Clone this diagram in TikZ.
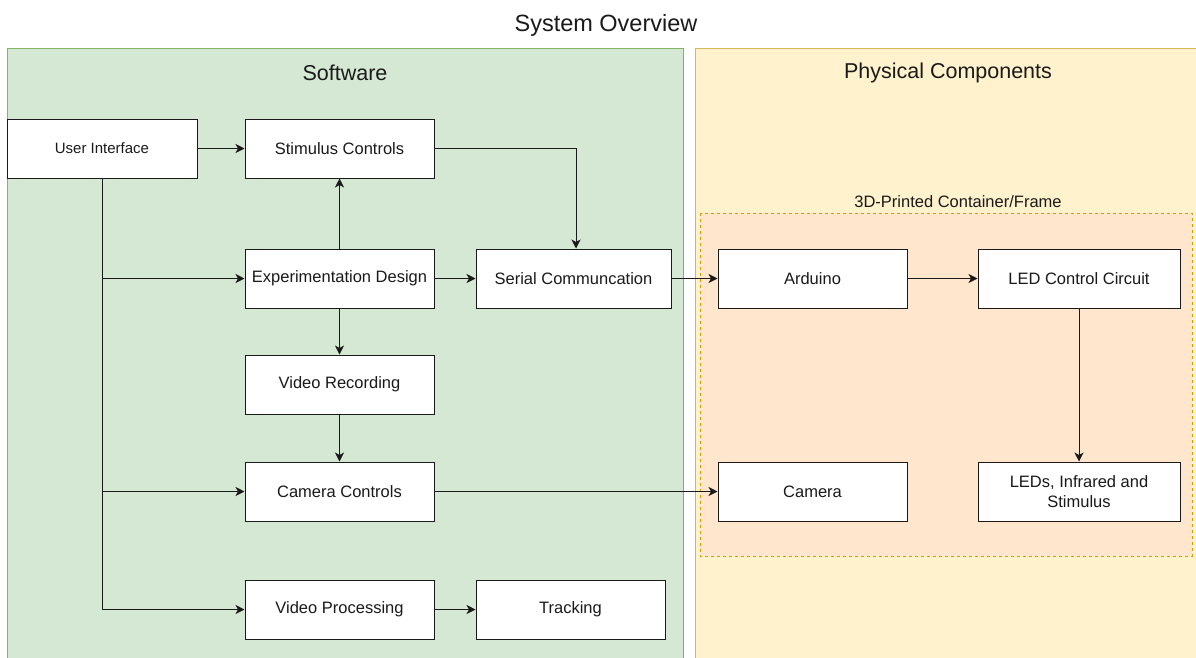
\documentclass[tikz,border=0pt]{standalone}
\usepackage{fontspec}
\setmainfont{Liberation Sans}
\usetikzlibrary{arrows.meta,positioning}
\definecolor{swfill}{HTML}{D5E8D4}
\definecolor{swline}{HTML}{82B366}
\definecolor{phfill}{HTML}{FFF2CC}
\definecolor{phline}{HTML}{D6B656}
\definecolor{frfill}{HTML}{FFE6CC}
\definecolor{frline}{HTML}{D79B00}
\definecolor{ink}{HTML}{1A1A1A}
\tikzset{
  block/.style={draw=ink, fill=white, line width=1pt, minimum width=189pt, minimum height=59pt,
    inner sep=2pt, align=center, font=\fontsize{16.5}{20}\selectfont, text=ink},
  link/.style={draw=ink, line width=1pt, -{Stealth[length=9pt,width=9pt,inset=2.5pt]}},
  paneltitle/.style={font=\fontsize{21.5}{25}\selectfont, text=ink},
}
\begin{document}
\begin{tikzpicture}[x=1pt,y=-1pt]
\useasboundingbox (0,0) rectangle (1196,657);
\fill[white] (0,0) rectangle (1196,657);

% section panels
\draw[fill=swfill, draw=swline, line width=1pt] (7,48) rectangle (683,662);
\draw[fill=phfill, draw=phline, line width=1pt] (695,48) rectangle (1202,662);
\draw[fill=frfill, draw=frline, line width=1pt, dash pattern=on 3pt off 3pt] (700,213) rectangle (1192,556);

% headings
\node[font=\fontsize{23.5}{28}\selectfont, text=ink] (title) at (606,25) {System Overview};
\node[paneltitle] (swtitle) at (345,73) {Software};
\node[paneltitle] (phtitle) at (948,73) {Physical Components};
\node[font=\fontsize{16.5}{20}\selectfont, text=ink] (frtitle) at (958,202) {3D-Printed Container/Frame};

% software blocks
\node[block, minimum width=190pt, font=\fontsize{15}{18}\selectfont] (ui) at (102,148.5) {User Interface};
\node[block] (stim) at (339.5,148.5) {Stimulus Controls};
\node[block] (exp) at (339.5,278.5) {Experimentation Design};
\node[block, minimum width=195pt] (serial) at (573.5,278.5) {Serial Communcation};
\node[block] (vrec) at (339.5,384.5) {Video Recording};
\node[block] (camc) at (339.5,491.5) {Camera Controls};
\node[block] (vproc) at (339.5,609.5) {Video Processing};
\node[block] (track) at (570.5,609.5) {Tracking};

% physical blocks
\node[block] (ard) at (812.5,278.5) {Arduino};
\node[block, minimum width=202pt] (ledc) at (1079,278.5) {LED Control Circuit};
\node[block] (cam) at (812.5,491.5) {Camera};
\node[block, minimum width=202pt] (leds) at (1079,491.5) {LEDs, Infrared and\\Stimulus};

% user interface fan-out
\draw[link] (ui) -- (stim);
\draw[link] (ui.south) |- (exp.west);
\draw[link] (ui.south) |- (camc.west);
\draw[link] (ui.south) |- (vproc.west);

% software flow
\draw[link] (exp) -- (stim);
\draw[link] (exp) -- (serial);
\draw[link] (exp) -- (vrec);
\draw[link] (vrec) -- (camc);
\draw[link] (stim.east) -| (serial.north -| 576,0);
\draw[link] (vproc) -- (track);

% links to the hardware
\draw[link] (serial) -- (ard);
\draw[link] (ard) -- (ledc);
\draw[link] (ledc) -- (leds);
\draw[link] (camc) -- (cam);
\end{tikzpicture}
\end{document}
